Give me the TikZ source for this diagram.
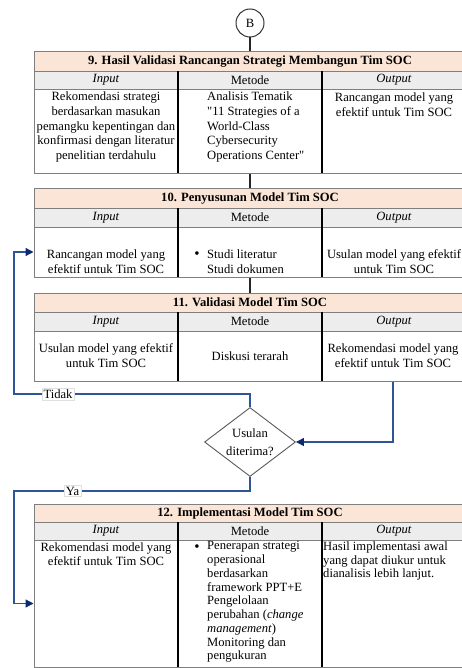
\documentclass[tikz,border=0pt]{standalone}
\usepackage{fontspec}
\setmainfont{Liberation Serif}
% same face without the TeX quote mapping, for straight double quotes
\newfontfamily\plainquote{Liberation Serif}
\usetikzlibrary{shapes.geometric,arrows.meta,fit}

\definecolor{headfill}{HTML}{FBE5D6}
\definecolor{subfill}{HTML}{EDEDED}
\definecolor{framegray}{HTML}{7F7F7F}
\definecolor{linkblue}{HTML}{2F5597}
\definecolor{tipnavy}{HTML}{0D2A6E}

\newcommand\dq{{\plainquote"}}

\tikzset{
  frame/.style={draw=framegray, line width=1pt, inner sep=0pt},
  rule/.style={draw=framegray, line width=0.8pt},
  coldiv/.style={draw=black, line width=1.4pt},
  flow/.style={draw=black!85, line width=1.8pt},
  loopline/.style={draw=linkblue, line width=1.3pt,
    -{Triangle[length=8pt,width=8pt,color=tipnavy]}},
  txt/.style={inner sep=0pt, font=\fontsize{12.6}{14.7}\selectfont, align=center},
  ltxt/.style={txt, align=left, anchor=west},
  txtb/.style={inner sep=0pt, font=\fontsize{12.6}{13.75}\selectfont, align=center},
  ltxtb/.style={txtb, align=left, anchor=west},
  titletxt/.style={inner sep=0pt, font=\fontsize{12.6}{14.7}\selectfont\bfseries},
  bullet/.style={inner sep=0pt, font=\fontsize{15}{15}\selectfont},
  decision/.style={diamond, aspect=1.32, draw=black!65, line width=0.9pt,
    minimum width=91pt, minimum height=69pt, inner sep=0pt, align=center,
    font=\fontsize{12.6}{18}\selectfont},
  connector/.style={circle, draw=black!80, line width=1pt, minimum size=28pt,
    inner sep=0pt, font=\fontsize{12.6}{14.7}\selectfont},
  tag/.style={fill=white, draw=black!12, line width=0.4pt, inner sep=1.5pt,
    font=\fontsize{12.6}{14.7}\selectfont},
}

% one step table: name, top, header bottom, subheader bottom, bottom, title
\newcommand\socbox[6]{%
  \fill[headfill] (34,#2) rectangle (466,#3);
  \fill[subfill] (34,#3) rectangle (466,#4);
  \draw[rule] (34,#3) -- (466,#3) (34,#4) -- (466,#4);
  \draw[coldiv] (178,#3) -- (178,#5) (322,#3) -- (322,#5);
  \node[frame, fit={(34,#2) (466,#5)}] (#1) {};
  \node[titletxt] (#1-title) at (250,{(#2+#3)/2}) {#6};
  \node[txt] (#1-hin) at (106,{(#3+#4)/2}) {\textit{Input}};
  \node[txt] (#1-hmet) at (250,{(#3+#4)/2}) {Metode};
  \node[txt] (#1-hout) at (394,{(#3+#4)/2}) {\textit{Output}};
  \coordinate (#1-body) at (250,{(#4+#5)/2});
}

\begin{document}
\begin{tikzpicture}[x=1pt, y=-1pt]
\useasboundingbox (0,0) rectangle (462,668);

% off-page connector
\node[connector] (B) at (250,23) {B};

% step 9
\socbox{b9}{52}{71}{89}{174}{9. Hasil Validasi Rancangan Strategi Membangun Tim SOC}
\node[txt] (b9-in) at (106,127.2) {Rekomendasi strategi\\berdasarkan masukan\\pemangku kepentingan dan\\konfirmasi dengan literatur\\penelitian terdahulu};
\node[ltxt] (b9-met) at (207,127.2) {Analisis Tematik\\\dq 11 Strategies of a\\World-Class\\Cybersecurity\\Operations Center\dq};
\node[txt] (b9-out) at (394,105) {Rancangan model yang\\efektif untuk Tim SOC};

% step 10
\socbox{b10}{189}{208}{227}{277}{10. Penyusunan Model Tim SOC}
\node[txt] (b10-in) at (106,261.5) {Rancangan model yang\\efektif untuk Tim SOC};
\node[bullet] (b10-bul) at (197,255) {\textbullet};
\node[ltxt] (b10-met) at (207,261.5) {Studi literatur\\Studi dokumen};
\node[txt] (b10-out) at (394,261.5) {Usulan model yang efektif\\untuk Tim SOC};

% step 11
\socbox{b11}{293}{312}{331}{381}{11. Validasi Model Tim SOC}
\node[txt] (b11-in) at (106,355.5) {Usulan model yang efektif\\untuk Tim SOC};
\node[txt] (b11-met) at (250,356) {Diskusi terarah};
\node[txt] (b11-out) at (393,355.5) {Rekomendasi model yang\\efektif untuk Tim SOC};

% step 12
\socbox{b12}{504}{522}{540}{667}{12. Implementasi Model Tim SOC}
\node[txtb] (b12-in) at (106,554) {Rekomendasi model yang\\efektif untuk Tim SOC};
\node[bullet] (b12-bul) at (197,548) {\textbullet};
\node[ltxtb] (b12-met) at (207,602) {Penerapan strategi\\operasional\\berdasarkan\\framework PPT+E\\Pengelolaan\\perubahan (\textit{change}\\\textit{management})\\Monitoring dan\\pengukuran};
\node[ltxtb] (b12-out) at (323,561) {Hasil implementasi awal\\yang dapat diukur untuk\\dianalisis lebih lanjut.};

% decision
\node[decision] (dec) at (250,442) {Usulan\\diterima?};

% main flow
\draw[flow] (B) -- (b9.north);
\draw[flow] (b9.south) -- (b10.north);
\draw[flow] (b10.south) -- (b11.north);

% decision branches
\draw[loopline] (b11-out |- b11.south) |- (dec.east);
\draw[loopline] (dec.north) |- (14,394) |- (b10-body -| b10.west);
\draw[loopline] (dec.south) |- (14,491) |- (b12-body -| b12.west);
\node[tag] (tidak) at (58,394) {Tidak};
\node[tag] (ya) at (72.5,491) {Ya};
\end{tikzpicture}
\end{document}
